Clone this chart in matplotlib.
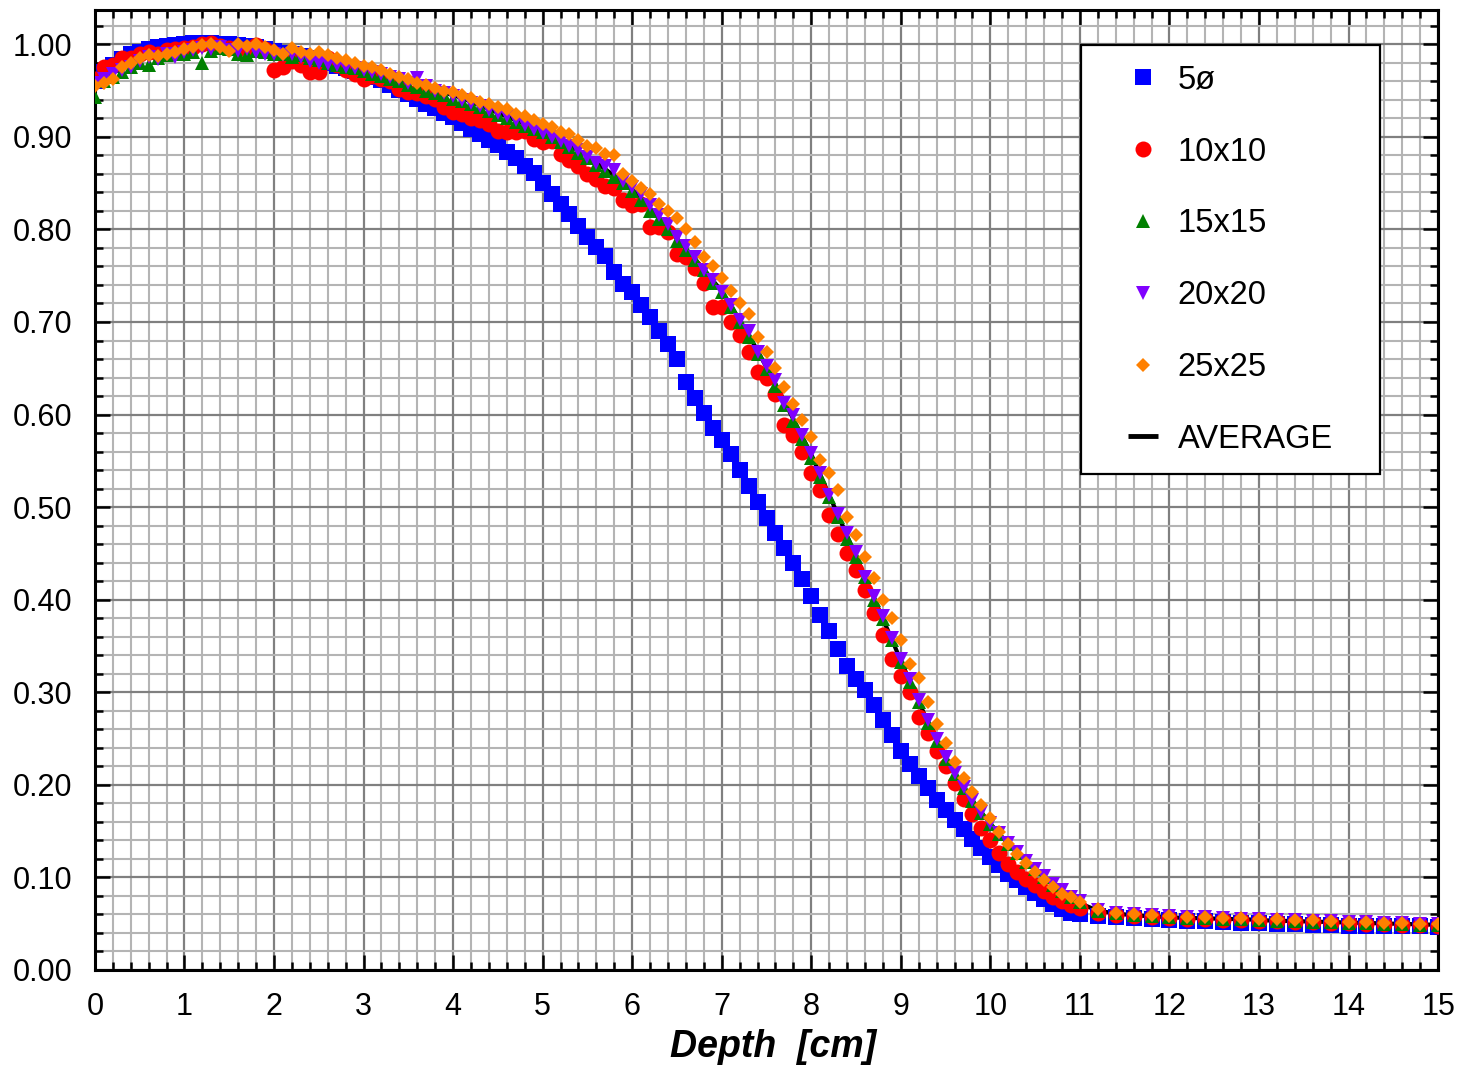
"""Curvas de dose em profundidade para varios tamanhos de campo."""

import matplotlib

# Usa backend sem tela.
matplotlib.use("Agg")

import matplotlib.pyplot as plt
import numpy as np
from matplotlib.lines import Line2D
from matplotlib.patches import Rectangle
from matplotlib.ticker import MultipleLocator

# Profundidades medidas: passo de 0.1 cm ate 11 cm e de 0.2 cm depois.
depth = np.concatenate([np.round(np.arange(0.0, 11.01, 0.1), 1), np.round(np.arange(11.2, 15.01, 0.2), 1)])

# Campo 5 (diametro).
dose_5 = [
    0.960, 0.970, 0.978, 0.984, 0.989, 0.992, 0.995, 0.997, 0.998, 0.999,
    1.000, 1.001, 1.001, 1.001, 1.000, 1.000, 0.999, 0.998, 0.997, 0.995,
    0.993, 0.991, 0.989, 0.987, 0.985, 0.982, 0.980, 0.977, 0.974, 0.971,
    0.968, 0.965, 0.961, 0.956, 0.951, 0.946, 0.941, 0.936, 0.931, 0.926,
    0.921, 0.915, 0.909, 0.903, 0.897, 0.891, 0.884, 0.877, 0.869, 0.861,
    0.850, 0.838, 0.827, 0.817, 0.804, 0.792, 0.781, 0.771, 0.754, 0.741,
    0.732, 0.718, 0.705, 0.690, 0.676, 0.660, 0.635, 0.618, 0.602, 0.586,
    0.572, 0.557, 0.540, 0.523, 0.505, 0.488, 0.472, 0.456, 0.440, 0.422,
    0.404, 0.384, 0.366, 0.347, 0.328, 0.314, 0.302, 0.286, 0.270, 0.254,
    0.237, 0.222, 0.209, 0.197, 0.184, 0.173, 0.162, 0.152, 0.142, 0.132,
    0.122, 0.113, 0.104, 0.097, 0.090, 0.083, 0.077, 0.071, 0.066, 0.062,
    0.060,
    0.058, 0.057, 0.056, 0.055, 0.054, 0.053, 0.053, 0.052, 0.051, 0.051,
    0.050, 0.050, 0.049, 0.049, 0.048, 0.048, 0.047, 0.047, 0.047, 0.046,
]

# Campo 10x10.
dose_10 = [
    0.962, 0.975, 0.978, 0.985, 0.985, 0.990, 0.992, 0.990, 0.994, 0.995,
    0.996, 0.997, 1.000, 1.001, 0.998, 0.996, 0.995, 0.996, 0.999, 0.995,
    0.972, 0.975, 0.982, 0.978, 0.970, 0.970, 0.985, 0.978, 0.972, 0.968,
    0.962, 0.966, 0.963, 0.960, 0.952, 0.948, 0.947, 0.944, 0.941, 0.932,
    0.927, 0.925, 0.920, 0.918, 0.914, 0.906, 0.905, 0.905, 0.906, 0.898,
    0.894, 0.896, 0.882, 0.875, 0.868, 0.860, 0.855, 0.847, 0.845, 0.832,
    0.826, 0.828, 0.803, 0.803, 0.797, 0.773, 0.770, 0.758, 0.742, 0.716,
    0.716, 0.700, 0.686, 0.668, 0.646, 0.640, 0.622, 0.589, 0.578, 0.560,
    0.537, 0.518, 0.492, 0.471, 0.450, 0.432, 0.410, 0.386, 0.362, 0.336,
    0.318, 0.300, 0.273, 0.256, 0.237, 0.220, 0.202, 0.185, 0.168, 0.153,
    0.140, 0.126, 0.115, 0.106, 0.098, 0.092, 0.085, 0.079, 0.074, 0.070,
    0.067,
    0.062, 0.059, 0.058, 0.057, 0.056, 0.055, 0.055, 0.054, 0.054, 0.053,
    0.053, 0.052, 0.052, 0.051, 0.051, 0.050, 0.050, 0.049, 0.049, 0.048,
]

# Campo 15x15.
dose_15 = [
    0.943, 0.960, 0.965, 0.970, 0.975, 0.980, 0.978, 0.985, 0.988, 0.990,
    0.990, 0.992, 0.980, 0.993, 0.996, 0.995, 0.990, 0.988, 0.993, 0.992,
    0.990, 0.990, 0.986, 0.988, 0.985, 0.983, 0.980, 0.978, 0.976, 0.974,
    0.971, 0.968, 0.966, 0.963, 0.960, 0.956, 0.954, 0.950, 0.947, 0.945,
    0.941, 0.939, 0.935, 0.932, 0.928, 0.924, 0.920, 0.916, 0.912, 0.908,
    0.905, 0.900, 0.894, 0.889, 0.883, 0.877, 0.870, 0.863, 0.857, 0.850,
    0.842, 0.832, 0.820, 0.811, 0.800, 0.787, 0.778, 0.767, 0.756, 0.742,
    0.732, 0.716, 0.700, 0.684, 0.665, 0.649, 0.631, 0.610, 0.593, 0.574,
    0.553, 0.533, 0.511, 0.489, 0.466, 0.446, 0.424, 0.400, 0.379, 0.356,
    0.333, 0.311, 0.289, 0.267, 0.247, 0.228, 0.212, 0.197, 0.183, 0.170,
    0.158, 0.147, 0.136, 0.126, 0.117, 0.109, 0.100, 0.092, 0.085, 0.079,
    0.073,
    0.064, 0.061, 0.059, 0.058, 0.057, 0.056, 0.056, 0.055, 0.055, 0.054,
    0.053, 0.053, 0.052, 0.052, 0.051, 0.051, 0.050, 0.050, 0.049, 0.049,
]

# Campo 20x20.
dose_20 = [
    0.958, 0.962, 0.968, 0.972, 0.976, 0.982, 0.986, 0.984, 0.990, 0.986,
    0.992, 0.994, 0.996, 0.995, 0.997, 0.994, 0.993, 0.995, 0.992, 0.990,
    0.990, 0.988, 0.990, 0.986, 0.982, 0.980, 0.979, 0.978, 0.976, 0.974,
    0.972, 0.970, 0.968, 0.965, 0.962, 0.958, 0.964, 0.955, 0.950, 0.947,
    0.944, 0.940, 0.937, 0.933, 0.929, 0.926, 0.922, 0.918, 0.913, 0.909,
    0.904, 0.900, 0.896, 0.890, 0.886, 0.878, 0.872, 0.868, 0.864, 0.852,
    0.846, 0.838, 0.826, 0.816, 0.806, 0.792, 0.782, 0.770, 0.756, 0.745,
    0.732, 0.718, 0.702, 0.690, 0.668, 0.652, 0.637, 0.612, 0.600, 0.578,
    0.558, 0.537, 0.513, 0.493, 0.472, 0.452, 0.425, 0.404, 0.382, 0.359,
    0.336, 0.314, 0.292, 0.270, 0.249, 0.230, 0.213, 0.198, 0.184, 0.171,
    0.159, 0.148, 0.137, 0.127, 0.118, 0.109, 0.101, 0.093, 0.086, 0.079,
    0.074,
    0.065, 0.062, 0.060, 0.059, 0.058, 0.057, 0.057, 0.056, 0.055, 0.055,
    0.054, 0.054, 0.053, 0.053, 0.052, 0.052, 0.051, 0.051, 0.050, 0.050,
]

# Campo 25x25.
dose_25 = [
    0.955, 0.958, 0.962, 0.975, 0.980, 0.985, 0.988, 0.987, 0.990, 0.992,
    0.995, 0.997, 0.999, 1.000, 0.997, 0.993, 1.000, 0.998, 1.000, 0.997,
    0.994, 0.990, 0.996, 0.992, 0.990, 0.992, 0.988, 0.985, 0.983, 0.980,
    0.977, 0.975, 0.972, 0.968, 0.965, 0.962, 0.958, 0.956, 0.953, 0.950,
    0.948, 0.945, 0.942, 0.938, 0.935, 0.932, 0.930, 0.925, 0.922, 0.918,
    0.914, 0.911, 0.905, 0.903, 0.897, 0.890, 0.888, 0.882, 0.880, 0.860,
    0.852, 0.845, 0.838, 0.828, 0.820, 0.812, 0.800, 0.786, 0.770, 0.760,
    0.748, 0.734, 0.720, 0.709, 0.684, 0.668, 0.650, 0.630, 0.611, 0.594,
    0.576, 0.551, 0.537, 0.518, 0.489, 0.470, 0.446, 0.423, 0.400, 0.380,
    0.356, 0.331, 0.315, 0.290, 0.266, 0.245, 0.225, 0.207, 0.192, 0.178,
    0.164, 0.149, 0.136, 0.125, 0.116, 0.106, 0.097, 0.090, 0.082, 0.079,
    0.073,
    0.066, 0.062, 0.060, 0.059, 0.058, 0.057, 0.057, 0.056, 0.056, 0.055,
    0.055, 0.054, 0.054, 0.053, 0.052, 0.052, 0.051, 0.051, 0.050, 0.050,
]

# Curva media.
dose_avg = [
    0.955, 0.963, 0.970, 0.976, 0.981, 0.985, 0.988, 0.991, 0.993, 0.995,
    0.996, 0.997, 0.998, 0.998, 0.998, 0.997, 0.997, 0.996, 0.995, 0.994,
    0.992, 0.991, 0.989, 0.988, 0.986, 0.984, 0.982, 0.980, 0.978, 0.976,
    0.973, 0.971, 0.968, 0.966, 0.963, 0.960, 0.957, 0.954, 0.951, 0.948,
    0.945, 0.942, 0.938, 0.934, 0.930, 0.926, 0.922, 0.918, 0.914, 0.910,
    0.906, 0.901, 0.896, 0.891, 0.885, 0.879, 0.872, 0.865, 0.858, 0.851,
    0.843, 0.833, 0.823, 0.812, 0.801, 0.790, 0.779, 0.768, 0.757, 0.745,
    0.733, 0.718, 0.702, 0.686, 0.669, 0.651, 0.633, 0.614, 0.595, 0.576,
    0.557, 0.535, 0.513, 0.491, 0.469, 0.447, 0.424, 0.402, 0.379, 0.357,
    0.334, 0.312, 0.290, 0.268, 0.248, 0.229, 0.212, 0.197, 0.183, 0.170,
    0.158, 0.147, 0.136, 0.126, 0.117, 0.109, 0.100, 0.092, 0.084, 0.078,
    0.072,
    0.064, 0.061, 0.059, 0.058, 0.057, 0.056, 0.056, 0.055, 0.055, 0.054,
    0.053, 0.053, 0.052, 0.052, 0.051, 0.051, 0.050, 0.050, 0.049, 0.049,
]

series_labels = ["5\u00f8", "10x10", "15x15", "20x20", "25x25"]
series_values = [dose_5, dose_10, dose_15, dose_20, dose_25]
series_colors = ["#0000FF", "#FF0000", "#008000", "#8000FF", "#FF8000"]
series_markers = ["s", "o", "^", "v", "D"]
series_sizes = [12.0, 11.5, 10.5, 10.5, 7.0]
x_ticks = list(range(0, 16))

plt.rcParams["font.family"] = ["Liberation Sans", "DejaVu Sans"]

# Cria figura no tamanho final.
fig = plt.figure(figsize=(14.6, 10.68), dpi=100)
ax = fig.add_axes([0.065, 0.0918, 0.920, 0.8988])

# Linha media fica por baixo dos marcadores.
ax.plot(depth, dose_avg, color="black", linewidth=3.0, zorder=2)

# Desenha cada campo com seu marcador.
for label, values, color, marker, size in zip(series_labels, series_values, series_colors, series_markers, series_sizes):
    ax.plot(depth, values, linestyle="none", marker=marker, markersize=size,
            color=color, markeredgewidth=0, label=label, zorder=3)

# Limites e ticks.
ax.set_xlim(0, 15)
ax.set_ylim(0, 1.037)
ax.set_xticks(x_ticks)
ax.xaxis.set_minor_locator(MultipleLocator(0.2))
ax.yaxis.set_major_locator(MultipleLocator(0.1))
ax.yaxis.set_minor_locator(MultipleLocator(0.02))
ax.yaxis.set_major_formatter(matplotlib.ticker.FormatStrFormatter("%.2f"))
ax.tick_params(which="both", direction="in", top=True, right=True, colors="black")
ax.tick_params(which="major", length=11, width=1.8, labelsize=22, pad=16)
ax.tick_params(which="minor", length=6, width=1.8)
ax.tick_params(axis="y", which="major", pad=16)

# Grade dupla: principal escura, secundaria clara.
ax.set_axisbelow(True)
ax.grid(True, which="minor", color="#b4b4b4", linewidth=1.5)
ax.grid(True, which="major", color="#808080", linewidth=1.6)
for spine in ax.spines.values():
    spine.set_linewidth(2.2)

# Rotulo do eixo X, um pouco deslocado para a direita como no original.
ax.set_xlabel("Depth  [cm]", fontsize=27, fontweight="bold", fontstyle="italic", labelpad=6)
ax.xaxis.set_label_coords(0.505, -0.062)

# Moldura da legenda desenhada a parte.
ax.add_patch(Rectangle((0.7342, 0.5167), 0.2226, 0.4469, transform=ax.transAxes,
                       facecolor="white", edgecolor="black", linewidth=1.6, zorder=5))

# Entradas da legenda (a media usa um traco curto).
handles, labels = ax.get_legend_handles_labels()
handles.append(Line2D([], [], linestyle="none", marker="_", markersize=21,
                      markeredgewidth=3.5, color="black"))
labels.append("AVERAGE")
legend = ax.legend(handles, labels, loc="upper left", bbox_to_anchor=(0.7692, 0.943),
                   frameon=False, fontsize=23.5, borderpad=0, borderaxespad=0,
                   handlelength=0.9, handletextpad=0.62, labelspacing=1.25, numpoints=1)
legend.set_zorder(6)

# Salva imagem.
fig.savefig("out.png", dpi=100)
plt.close(fig)
